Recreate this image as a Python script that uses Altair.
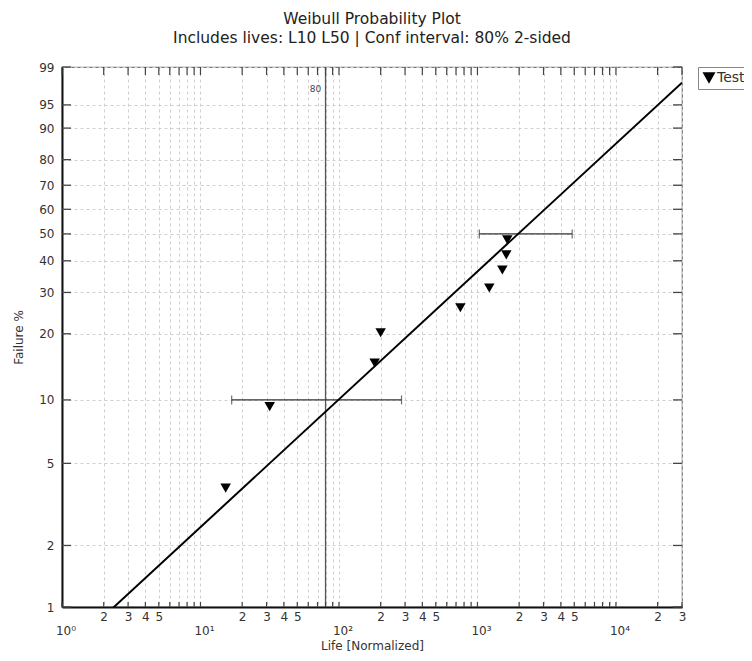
import math
import altair as alt
import pandas as pd

# ---- data ----
life = [15.2, 31.6, 181, 200, 753, 1218, 1513, 1616, 1643]
failure_pct = [3.8, 9.3, 14.8, 20.2, 25.9, 31.3, 36.9, 42.1, 47.7]
series_name = "Test 4"

beta = 0.63        # fitted Weibull shape
eta = 3520.0       # fitted Weibull scale
fit_life = [1, 30000]

ci_pct = [10, 50]
ci_low = [16.8, 1032]
ci_high = [283, 4833]

ref_life = [80]
ref_label = ["80"]

y_ticks = [1, 2, 5, 10, 20, 30, 40, 50, 60, 70, 80, 90, 95, 99]
x_ticks = [m * 10 ** k for k in range(5) for m in range(1, 10) if m * 10 ** k <= 30000]
decades = [1, 10, 100, 1000, 10000]
decade_labels = ["10⁰", "10¹", "10²", "10³", "10⁴"]

FONT = "DejaVu Sans"
W, H = 620, 540


def wb(p):
    return math.log(-math.log(1 - p / 100.0))


WEXPR = "log(-log(1 - datum.pct/100))"

xscale = alt.Scale(type="log", domain=[1, 30000], nice=False)
yscale = alt.Scale(domain=[wb(1), wb(99)], nice=False, zero=False)

LEAD = "round(datum.value / pow(10, floor(log(datum.value)/LN10 + 1e-9)))"
xaxis = alt.Axis(
    values=x_ticks,
    labelExpr=f"indexof([2,3,4,5], {LEAD}) >= 0 ? format({LEAD}, 'd') : ''",
    grid=True, ticks=False, title="Life [Normalized]",
    labelFontSize=12, labelPadding=4, labelColor="#333", labelFont=FONT,
    titleFont=FONT, titleFontSize=12, titleFontWeight="normal", titleColor="#333",
    titleY=38, titleBaseline="middle",
    domainColor="#111", domainWidth=2,
    gridColor="#cfcfcf", gridDash=[3, 3], labelFlush=False, labelOverlap=False,
)
yaxis = alt.Axis(
    values=[wb(p) for p in y_ticks],
    labelExpr="format(100*(1-exp(-exp(datum.value))), '.0f')",
    grid=True, ticks=False, title="Failure %",
    labelFontSize=12, labelPadding=8, labelColor="#333", labelFont=FONT,
    titleFont=FONT, titleFontSize=12, titleFontWeight="normal", titleColor="#333",
    titleX=-44, titleY=H / 2, titleBaseline="middle", titleAngle=270,
    domainColor="#111", domainWidth=2,
    gridColor="#cfcfcf", gridDash=[3, 3], labelFlush=False, labelOverlap=False,
)


def X(field):
    return alt.X(field, scale=xscale, axis=xaxis)


def Y(field):
    return alt.Y(field, scale=yscale, axis=yaxis)


pts_df = pd.DataFrame({"life": life, "pct": failure_pct, "series": series_name})
points = alt.Chart(pts_df).transform_calculate(w=WEXPR).mark_point(
    filled=True, size=110, opacity=1
).encode(
    x=X("life:Q"),
    y=Y("w:Q"),
    color=alt.Color("series:N", scale=alt.Scale(range=["black"]), title=None),
    shape=alt.Shape("series:N", scale=alt.Scale(range=["triangle-down"]), title=None),
)

fit = alt.Chart(pd.DataFrame({"life": fit_life})).transform_calculate(
    w=f"{beta}*log(datum.life/{eta})"
).mark_line(color="black", strokeWidth=2, clip=True).encode(
    x=X("life:Q"),
    y=Y("w:Q"),
)

ci_df = pd.DataFrame({"pct": ci_pct, "lo": ci_low, "hi": ci_high})
ci_line = alt.Chart(ci_df).transform_calculate(w=WEXPR).mark_rule(
    color="#333", strokeWidth=1.2
).encode(
    x=X("lo:Q"),
    x2="hi:Q",
    y=Y("w:Q"),
)
ci_caps = alt.Chart(ci_df).transform_calculate(w=WEXPR).transform_fold(
    ["lo", "hi"], as_=["end", "life"]
).mark_tick(orient="vertical", size=9, thickness=1.2, color="#333").encode(
    x=X("life:Q"),
    y=Y("w:Q"),
)

ref_df = pd.DataFrame({"life": ref_life, "label": ref_label})
ref_rule = alt.Chart(ref_df).mark_rule(color="#555", strokeWidth=1.3).encode(
    x=X("life:Q"),
)
ref_text = alt.Chart(ref_df).mark_text(
    fontSize=9, color="#445", font=FONT, dx=-10
).encode(
    x=X("life:Q"),
    y=alt.value(22),
    text="label:N",
)

yt_df = pd.DataFrame({"pct": y_ticks})
ytick_l = alt.Chart(yt_df).transform_calculate(w=WEXPR).mark_rule(color="#444", strokeWidth=1.3).encode(
    x=alt.value(0), x2=alt.value(9), y=Y("w:Q"))
ytick_r = alt.Chart(yt_df).transform_calculate(w=WEXPR).mark_rule(color="#444", strokeWidth=1.3).encode(
    x=alt.value(W - 9), x2=alt.value(W), y=Y("w:Q"))

xt_df = pd.DataFrame({"life": x_ticks})
xtick_t = alt.Chart(xt_df).mark_rule(color="#444", strokeWidth=1.2).encode(
    x=X("life:Q"), y=alt.value(0), y2=alt.value(8))
xtick_b = alt.Chart(xt_df).mark_rule(color="#444", strokeWidth=1.2).encode(
    x=X("life:Q"), y=alt.value(H - 5), y2=alt.value(H))

dec_df = pd.DataFrame({"life": decades, "label": decade_labels})
dec_text = alt.Chart(dec_df).mark_text(
    fontSize=12, color="#333", font=FONT, dx=4, baseline="middle"
).encode(
    x=X("life:Q"),
    y=alt.value(H + 24),
    text="label:N",
)

chart = alt.layer(
    points, ref_rule, ref_text, ytick_l, ytick_r, xtick_t, xtick_b,
    ci_line, ci_caps, fit, dec_text,
).properties(
    width=W, height=H,
    autosize=alt.AutoSizeParams(type="none"),
    padding={"left": 54, "top": 59, "right": 62, "bottom": 46},
    title=alt.TitleParams(
        text=["Weibull Probability Plot",
              "Includes lives: L10 L50 | Conf interval: 80% 2-sided"],
        fontSize=15.5, fontWeight="normal", font=FONT, color="#222",
        lineHeight=19, anchor="middle", offset=15,
    ),
).configure_view(
    stroke="#777", strokeWidth=1.2
).configure_legend(
    orient="right", offset=16, strokeColor="#888", padding=4,
    labelFontSize=14, labelFont=FONT, labelColor="#333", symbolSize=170,
    symbolStrokeWidth=0, cornerRadius=0, rowPadding=0, labelOffset=1,
)

chart.save("out.html", embed_options={"renderer": "svg", "actions": False})
